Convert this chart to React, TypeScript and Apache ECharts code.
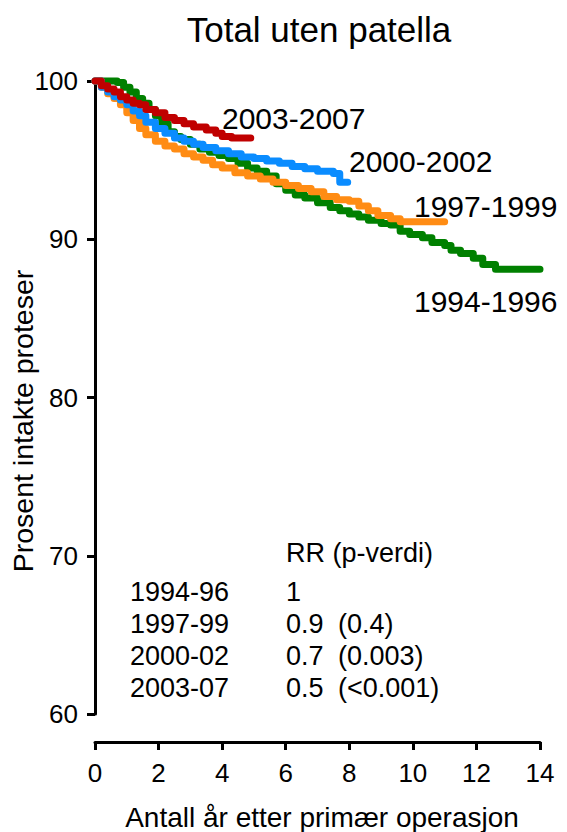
import React, { useEffect, useRef } from "react";
import * as echarts from "echarts";

const FONT = '"Liberation Sans", Arial, Helvetica, sans-serif';

const titleText = "Total uten patella";
const xAxisTitle = "Antall år etter primær operasjon";
const yAxisTitle = "Prosent intakte proteser";

const xTicks = { min: 0, max: 14, interval: 2 };
const yTicks = { min: 60, max: 100, interval: 10 };

const seriesNames = ["1994-1996", "1997-1999", "2000-2002", "2003-2007"];
const seriesColors = ["#008000", "#ff8c14", "#0a8cff", "#c00000"];

const green9496: [number, number][] = [
  [0, 100], [0.3, 100], [0.5, 100], [0.7, 99.9], [0.9, 99.6], [1.1, 99.3], [1.3, 98.9],
  [1.5, 98.6], [1.7, 98.2], [1.9, 97.8], [2.1, 97.3], [2.3, 96.8], [2.5, 96.5], [2.7, 96.3],
  [3.0, 96.0], [3.3, 95.7], [3.6, 95.5], [3.9, 95.3], [4.2, 95.1], [4.5, 94.8], [4.8, 94.5],
  [5.1, 94.3], [5.4, 94.0], [5.7, 93.5], [6.0, 93.1], [6.3, 92.8], [6.6, 92.6], [7.0, 92.3],
  [7.4, 92.0], [7.7, 91.8], [8.0, 91.6], [8.3, 91.4], [8.6, 91.2], [9.0, 91.0], [9.3, 90.9],
  [9.6, 90.5], [9.9, 90.3], [10.3, 90.1], [10.6, 89.8], [11.0, 89.6], [11.2, 89.3], [11.5, 89.1],
  [11.9, 88.8], [12.2, 88.4], [12.6, 88.1], [14.0, 88.1],
];

const orange9799: [number, number][] = [
  [0, 100], [0.2, 99.6], [0.4, 99.2], [0.6, 98.9], [0.8, 98.5], [1.0, 98.0], [1.2, 97.5],
  [1.4, 97.0], [1.6, 96.6], [1.9, 96.2], [2.2, 95.9], [2.5, 95.7], [2.8, 95.4], [3.1, 95.2],
  [3.4, 95.0], [3.7, 94.7], [4.0, 94.5], [4.4, 94.2], [4.8, 94.0], [5.2, 93.8], [5.6, 93.6],
  [6.0, 93.4], [6.4, 93.2], [6.8, 93.0], [7.2, 92.7], [7.6, 92.5], [8.0, 92.4], [8.3, 92.1],
  [8.6, 91.8], [8.9, 91.5], [9.3, 91.3], [9.6, 91.1], [11.0, 91.1],
];

const blue0002: [number, number][] = [
  [0, 100], [0.2, 99.6], [0.4, 99.3], [0.6, 99.0], [0.8, 98.8], [1.0, 98.5], [1.2, 98.1],
  [1.4, 97.8], [1.6, 97.4], [1.9, 97.0], [2.2, 96.7], [2.5, 96.4], [2.8, 96.2], [3.1, 96.0],
  [3.4, 95.8], [3.8, 95.6], [4.2, 95.4], [4.6, 95.2], [5.0, 95.1], [5.4, 94.95], [5.8, 94.8],
  [6.2, 94.6], [6.6, 94.45], [7.0, 94.3], [7.5, 94.15], [7.7, 93.6], [7.95, 93.6],
];

const red0307: [number, number][] = [
  [0, 100], [0.2, 99.7], [0.4, 99.5], [0.6, 99.3], [0.8, 99.0], [1.0, 98.8], [1.2, 98.6],
  [1.4, 98.5], [1.6, 98.2], [1.9, 98.0], [2.2, 97.7], [2.5, 97.5], [2.8, 97.3], [3.1, 97.1],
  [3.5, 96.9], [3.8, 96.7], [4.0, 96.5], [4.3, 96.4], [4.9, 96.4],
];

const seriesData = [green9496, orange9799, blue0002, red0307];

// label positions for series names (left x, center y)
const seriesLabelPos: [number, number][] = [
  [414, 301], [414, 206], [349, 161], [222, 118],
];

const tableHeader = "RR (p-verdi)";
const tablePeriods = ["1994-96", "1997-99", "2000-02", "2003-07"];
const tableRR = ["1", "0.9", "0.7", "0.5"];
const tableP = ["", "(0.4)", "(0.003)", "(<0.001)"];

function txt(x: number, y: number, text: string, size: number, align = "left", rotation = 0) {
  return {
    type: "text",
    x,
    y,
    rotation,
    silent: true,
    style: {
      text,
      fill: "#000",
      fontSize: size,
      fontFamily: FONT,
      align,
      verticalAlign: "middle",
      textAlign: align,
      textVerticalAlign: "middle",
    },
  };
}

export default function App() {
  const ref = useRef<HTMLDivElement>(null);
  useEffect(() => {
    if (!ref.current) return;
    const chart = echarts.init(ref.current, undefined, { renderer: "svg" });
    const graphics: any[] = [];
    graphics.push(txt(319, 29, titleText, 35, "center"));
    graphics.push(txt(322, 817, xAxisTitle, 28, "center"));
    graphics.push(txt(23, 421, yAxisTitle, 28.5, "center", Math.PI / 2));
    seriesNames.forEach((n, i) => {
      graphics.push(txt(seriesLabelPos[i][0], seriesLabelPos[i][1], n, 30, "left"));
    });
    graphics.push(txt(286, 553, tableHeader, 27, "left"));
    const rowY = [592, 624, 656, 688];
    tablePeriods.forEach((p, i) => {
      graphics.push(txt(130, rowY[i], p, 27, "left"));
      graphics.push(txt(286, rowY[i], tableRR[i], 27, "left"));
      if (tableP[i]) graphics.push(txt(338, rowY[i], tableP[i], 27, "left"));
    });

    chart.setOption({
      animation: false,
      backgroundColor: "#fff",
      grid: { left: 95, right: 27, top: 81, bottom: 118, containLabel: false },
      xAxis: {
        type: "value",
        min: xTicks.min,
        max: xTicks.max,
        interval: xTicks.interval,
        offset: 28,
        axisLine: { show: true, onZero: false, lineStyle: { color: "#000", width: 3 } },
        axisTick: { show: true, length: 8, lineStyle: { color: "#000", width: 3 } },
        axisLabel: { color: "#000", fontSize: 26, fontFamily: FONT, margin: 18 },
        splitLine: { show: false },
      },
      yAxis: {
        type: "value",
        min: yTicks.min,
        max: yTicks.max,
        interval: yTicks.interval,
        axisLine: { show: true, onZero: false, lineStyle: { color: "#000", width: 3 } },
        axisTick: { show: true, length: 8, lineStyle: { color: "#000", width: 3 } },
        axisLabel: {
          color: "#000",
          fontSize: 26,
          fontFamily: FONT,
          margin: 17,
          padding: [12, 0, 0, 0],
        },
        splitLine: { show: false },
      },
      series: seriesData.map((d, i) => ({
        type: "line",
        name: seriesNames[i],
        data: d,
        step: "end",
        showSymbol: false,
        symbol: "none",
        clip: false,
        lineStyle: { color: seriesColors[i], width: 7, cap: "round", join: "round" },
        z: 2 + i,
      })),
      graphic: graphics,
    });
    return () => chart.dispose();
  }, []);
  return (
    <div
      ref={ref}
      style={{ position: "fixed", left: 0, top: 0, width: 567, height: 832, background: "#fff" }}
    />
  );
}
